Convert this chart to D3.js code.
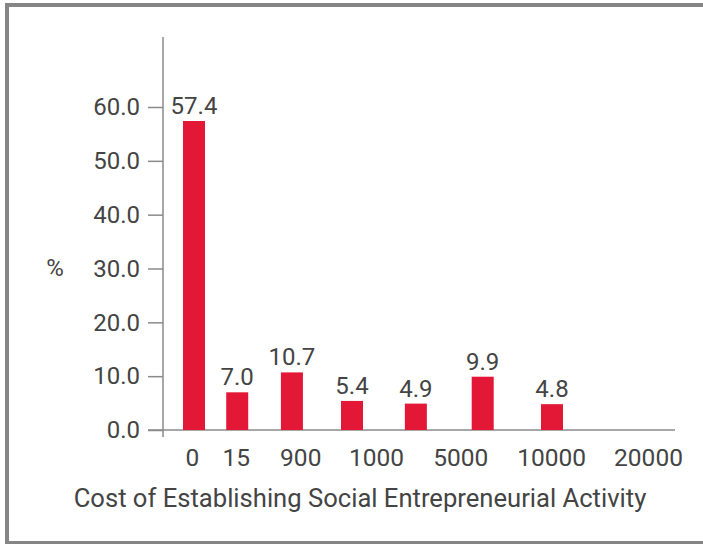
<!DOCTYPE html>
<html>
<head>
<meta charset="utf-8">
<script src="https://cdn.jsdelivr.net/npm/d3@7"></script>
<style>
  html, body { margin: 0; padding: 0; background: #fff; }
  svg { display: block; }
  text { font-family: Roboto, "Noto Sans", sans-serif; fill: #444; }
</style>
</head>
<body>
<svg id="chart" width="703" height="544"></svg>
<script>
// ---- data ----
const categories = ["0", "15", "900", "1000", "5000", "10000", "20000"];
const valueLabels = ["57.4", "7.0", "10.7", "5.4", "4.9", "9.9", "4.8"];
const barSlots = [0, 1, 2, 3, 4, 5, 6];
const barValues = [57.4, 7.0, 10.7, 5.4, 4.9, 9.9, 4.8];
const yTicks = [0, 10, 20, 30, 40, 50, 60];
const xTitle = "Cost of Establishing Social Entrepreneurial Activity";
const yTitle = "%";

const svg = d3.select("#chart");

// frame
svg.append("rect")
  .attr("x", 7).attr("y", 5).attr("width", 710).attr("height", 538)
  .attr("fill", "none").attr("stroke", "#858585").attr("stroke-width", 4);

const x0 = 163, yBase = 430;
const y = d3.scaleLinear().domain([0, 60]).range([yBase, 107]);

// bar slot positions (non-uniform spacing in the picture)
const xBar = d3.scalePow().exponent(1.18).domain([0, 6]).range([194, 552]);
// tick-label positions
const xLab = d3.scalePow().exponent(1.309).domain([0, 6]).range([192, 648]);
const barW = 22;

// y axis ticks
const yAxis = d3.axisLeft(y).tickValues(yTicks).tickFormat(d3.format(".1f"))
  .tickSize(15).tickPadding(8);
const gy = svg.append("g").attr("transform", `translate(${x0},0)`).call(yAxis);
gy.select(".domain").remove();
gy.selectAll(".tick line").attr("stroke", "#8a8a8a").attr("stroke-width", 1.5);
gy.selectAll(".tick text").attr("font-size", 24).attr("fill", "#444")
  .attr("font-family", "Roboto, sans-serif");

// axis lines
svg.append("line").attr("x1", x0).attr("x2", x0).attr("y1", 37).attr("y2", yBase + 7)
  .attr("stroke", "#8a8a8a").attr("stroke-width", 1.5);
svg.append("line").attr("x1", x0 - 15).attr("x2", 675).attr("y1", yBase).attr("y2", yBase)
  .attr("stroke", "#8a8a8a").attr("stroke-width", 1.5);

// bars
svg.append("g").selectAll("rect").data(barValues).join("rect")
  .attr("x", (d, i) => xBar(barSlots[i]) - barW / 2)
  .attr("y", d => y(d))
  .attr("width", barW)
  .attr("height", d => yBase - y(d))
  .attr("fill", "#E31837");

// value labels
svg.append("g").selectAll("text").data(barValues).join("text")
  .attr("x", (d, i) => xBar(barSlots[i]))
  .attr("y", d => y(d) - 7)
  .attr("text-anchor", "middle")
  .attr("font-size", 24)
  .text((d, i) => valueLabels[i]);

// x axis tick labels
const xAxis = d3.axisBottom(xLab).tickValues(d3.range(categories.length))
  .tickFormat(i => categories[i]).tickSize(0).tickPadding(0);
const gx = svg.append("g").attr("transform", `translate(0,${yBase})`).call(xAxis);
gx.select(".domain").remove();
gx.selectAll(".tick text").attr("font-size", 24.5).attr("fill", "#444")
  .attr("font-family", "Roboto, sans-serif").attr("dy", null).attr("y", 35.5);

// titles
svg.append("text").attr("x", 360).attr("y", 507).attr("text-anchor", "middle")
  .attr("font-size", 25.6).text(xTitle);
svg.append("text").attr("x", 55).attr("y", y(30)).attr("dy", "0.32em")
  .attr("text-anchor", "middle").attr("font-size", 24).text(yTitle);
</script>
</body>
</html>
